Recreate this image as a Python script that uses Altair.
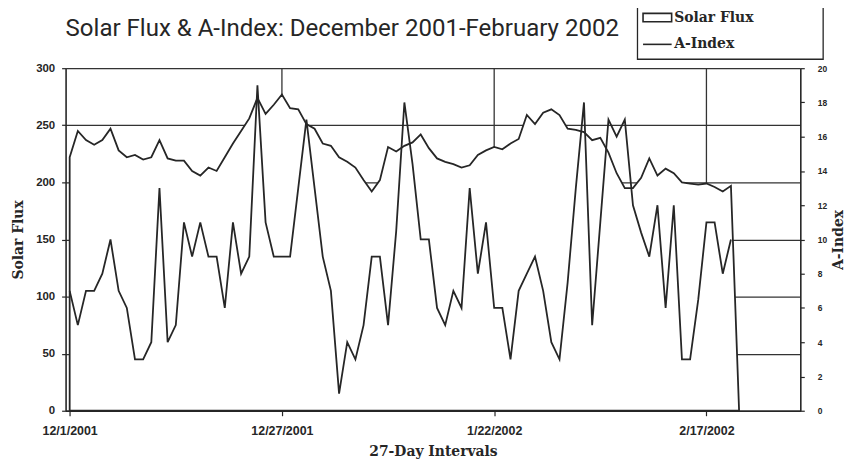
import altair as alt
import pandas as pd

# ---------------- data ----------------
start_date = "2001-12-01"
flux = [222, 245, 237, 233, 237, 247, 228, 222, 224, 220, 222, 237, 221, 219, 219, 210,
        206, 213, 210, 222, 234, 245, 256, 274, 260, 268, 277, 265, 264, 251, 247, 234,
        232, 222, 218, 213, 202, 192, 202, 231, 227, 232, 235, 242, 230, 221, 218, 216,
        213, 215, 224, 228, 231, 229, 234, 238, 259, 251, 261, 264, 259, 247, 246, 244,
        237, 239, 226, 208, 195, 195, 204, 221, 206, 212, 208, 200, 199, 198, 199, 196,
        192, 197, 0]
aindex = [7, 5, 7, 7, 8, 10, 7, 6, 3, 3, 4, 13, 4, 5, 11, 9,
          11, 9, 9, 6, 11, 8, 9, 19, 11, 9, 9, 9, 13, 17, 13, 9,
          7, 1, 4, 3, 5, 9, 9, 5, 10.5, 18, 14.4, 10, 10, 6, 5, 7,
          6, 13, 8, 11, 6, 6, 3, 7, 8, 9, 7, 4, 3, 7.5, 13, 18,
          5, 11, 17, 16, 17, 12, 10.4, 9, 12, 6, 12, 3, 3, 6.5, 11, 11,
          8, 10]
tick_dates = ["2001-12-01", "2001-12-27", "2002-01-22", "2002-02-17"]
grid_dates = ["2001-12-27", "2002-01-22", "2002-02-17"]
flux_ticks = [0, 50, 100, 150, 200, 250, 300]
a_ticks = [0, 2, 4, 6, 8, 10, 12, 14, 16, 18, 20]
series_names = ["Solar Flux", "A-Index"]
title_text = "Solar Flux & A-Index: December 2001-February 2002"

dates = pd.date_range(start_date, periods=len(flux), freq="D").strftime("%Y-%m-%d")
df_flux = pd.DataFrame({"date": dates, "flux": flux})
df_a = pd.DataFrame({"date": dates[:len(aindex)], "aindex": aindex})
df_grid = pd.DataFrame({"date": grid_dates})
df_series = pd.DataFrame({"series": series_names})
df_frame = pd.DataFrame({"box": ["legend"]})

INK = "#262626"


def dt(s, hours=0):
    t = pd.Timestamp(s)
    return alt.DateTime(year=t.year, month=t.month, date=t.day, hours=hours, utc=True)


x_enc = alt.X(
    "date:T",
    scale=alt.Scale(type="utc", domain=[dt("2001-11-30", 12), dt("2002-02-28", 12)]),
    axis=alt.Axis(
        values=[dt(s) for s in tick_dates],
        format="%-m/%-d/%Y",
        title="27-Day Intervals",
        titleFont="DejaVu Serif", titleFontWeight="bold", titleFontSize=14,
        titleColor=INK, titlePadding=8,
        labelFont="Liberation Sans", labelFontWeight="bold", labelFontSize=12.5,
        labelColor=INK, labelPadding=9, labelFlush=False,
        tickSize=5, tickColor=INK, tickWidth=1.2,
        domainColor=INK, domainWidth=1.6, grid=False,
    ),
)

rules = alt.Chart(df_grid).mark_rule(color="#333333", strokeWidth=1.3).encode(x=x_enc)

area = alt.Chart(df_flux).mark_area(
    fill="white", fillOpacity=1, stroke=INK, strokeWidth=1.8, strokeJoin="miter"
).encode(
    x=x_enc,
    y=alt.Y(
        "flux:Q",
        scale=alt.Scale(domain=[0, 300], nice=False, zero=True),
        axis=alt.Axis(
            values=flux_ticks, orient="left",
            title="Solar Flux", titleFont="DejaVu Serif", titleFontWeight="bold",
            titleFontSize=14, titleColor=INK, titlePadding=10,
            labelFont="Liberation Sans", labelFontWeight="bold", labelFontSize=11.5,
            labelColor=INK, labelPadding=7,
            tickSize=4, tickColor=INK, tickWidth=1.2,
            domainColor=INK, domainWidth=1.6,
            grid=True, gridColor="#333333", gridWidth=1.3,
        ),
    ),
)

# legend frame (decoration, placed in pixels relative to the plot area)
legend_frame = alt.Chart(df_frame).mark_rect(
    fill="white", stroke=INK, strokeWidth=1.3
).encode(
    x=alt.value(576), x2=alt.value(763), y=alt.value(-62), y2=alt.value(-9)
)

legend_pts = alt.Chart(df_series).mark_point(filled=False, opacity=0).encode(
    x=alt.value(0),
    y=alt.value(0),
    shape=alt.Shape(
        "series:N",
        scale=alt.Scale(domain=series_names,
                        range=["M-1.2,-0.35H1.2V0.35H-1.2Z", "M-1.2,0H1.2"]),
        legend=alt.Legend(
            title=None, orient="none", legendX=577, legendY=-67, direction="vertical",
            padding=3,
            symbolOpacity=1, symbolStrokeColor=INK, symbolFillColor="white",
            symbolStrokeWidth=1.6, symbolSize=576, symbolOffset=3,
            labelFont="DejaVu Serif", labelFontWeight="bold", labelFontSize=14,
            labelColor=INK, labelOffset=4, rowPadding=6, labelLimit=300,
        ),
    ),
    color=alt.value(INK),
)

aline = alt.Chart(df_a).mark_line(color=INK, strokeWidth=1.8, strokeJoin="miter").encode(
    x=x_enc,
    y=alt.Y(
        "aindex:Q",
        scale=alt.Scale(domain=[0, 20], nice=False, zero=True),
        axis=alt.Axis(
            values=a_ticks, orient="right",
            title="A-Index", titleAngle=270, titleFont="DejaVu Serif", titleFontWeight="bold",
            titleFontSize=14, titleColor=INK, titlePadding=19,
            labelFont="Liberation Sans", labelFontWeight="bold", labelFontSize=8.5,
            labelColor=INK, labelPadding=13,
            tickSize=4, tickColor=INK, tickWidth=1.2,
            domainColor=INK, domainWidth=1.6, grid=False,
        ),
    ),
)

chart = alt.layer(
    alt.layer(rules, area, legend_frame, legend_pts), aline
).resolve_scale(y="independent").properties(
    width=740,
    height=345,
    autosize=alt.AutoSizeParams(type="none"),
    padding={"left": 58, "top": 59, "right": 45, "bottom": 50},
    title=alt.TitleParams(
        text=title_text, anchor="start", frame="group", orient="top",
        font="Roboto", fontSize=24.2, fontWeight="normal", color=INK, offset=-40,
    ),
    background="white",
).configure_view(strokeWidth=0)

chart.save("out.html", embed_options={"renderer": "svg", "actions": False})
